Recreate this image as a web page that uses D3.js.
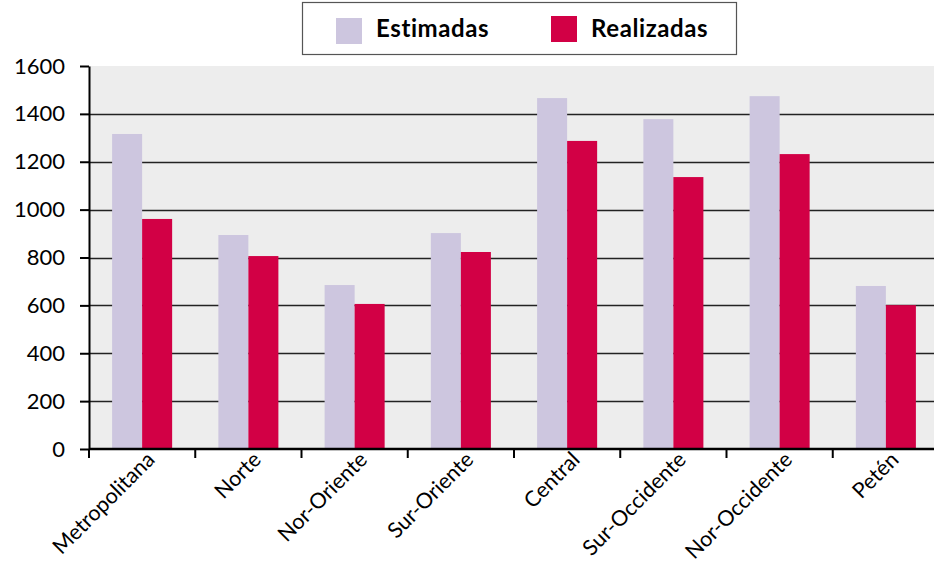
<!DOCTYPE html>
<html>
<head>
<meta charset="utf-8">
<script src="https://cdn.jsdelivr.net/npm/d3@7"></script>
<style>
  body { margin: 0; background: #fff; }
  svg { display: block; font-family: Lato, "Noto Sans", sans-serif; }
</style>
</head>
<body>
<div id="chart"></div>
<script>
// regions and the two series
var regions = ['Metropolitana', 'Norte', 'Nor-Oriente', 'Sur-Oriente', 'Central', 'Sur-Occidente', 'Nor-Occidente', 'Petén'];
var estimadas = [1316, 894, 685, 902, 1466, 1378, 1474, 681];
var realizadas = [961, 806, 606, 823, 1287, 1136, 1232, 601];
var yTicks = [0, 200, 400, 600, 800, 1000, 1200, 1400, 1600];
var seriesNames = ['Estimadas', 'Realizadas'];
var colors = ['#cdc6df', '#d20045'];

var width = 934, height = 566;
var margins = {left: 89, top: 66, right: -5, bottom: 117};
var plotW = width - margins.left - margins.right;
var plotH = height - margins.top - margins.bottom;

var svg = d3.select('#chart').append('svg')
  .attr('width', width)
  .attr('height', height);

var x = d3.scaleBand().domain(regions).range([0, plotW]).paddingInner(0.435).paddingOuter(0.2175);
var xs = d3.scaleBand().domain(seriesNames).range([0, x.bandwidth()]);
var y = d3.scaleLinear().domain([0, 1600]).range([plotH, 0]);

var g = svg.append('g').attr('transform', 'translate(' + margins.left + ',' + margins.top + ')');

g.append('rect')
  .attr('width', plotW).attr('height', plotH)
  .attr('fill', '#ededed');

// gridlines
g.selectAll('line.grid').data(yTicks.slice(1, -1)).enter()
  .append('line').classed('grid', true)
  .attr('x1', 0).attr('x2', plotW)
  .attr('y1', function(d) { return Math.round(y(d)) + 0.5; })
  .attr('y2', function(d) { return Math.round(y(d)) + 0.5; })
  .attr('stroke', '#222').attr('stroke-width', 1.3);

var rows = regions.map(function(r, i) { return {region: r, values: [estimadas[i], realizadas[i]]}; });

var groups = g.selectAll('g.region').data(rows).enter()
  .append('g').classed('region', true)
  .attr('transform', function(d) { return 'translate(' + x(d.region) + ',0)'; });

groups.selectAll('rect').data(function(d) { return d.values; }).enter()
  .append('rect')
  .attr('x', function(d, i) { return xs(seriesNames[i]); })
  .attr('width', xs.bandwidth())
  .attr('y', function(d) { return y(d); })
  .attr('height', function(d) { return plotH - y(d); })
  .attr('fill', function(d, i) { return colors[i]; });

// y axis
var yAxis = g.append('g')
  .call(d3.axisLeft(y).tickValues(yTicks).tickFormat(d3.format('d')).tickSize(9).tickSizeOuter(0).tickPadding(15));
yAxis.select('.domain').attr('stroke', '#000').attr('stroke-width', 2);
yAxis.selectAll('.tick line').attr('stroke', '#000').attr('stroke-width', 2);
yAxis.selectAll('.tick text').attr('font-size', 22).attr('fill', '#000')
  .attr('font-family', 'Lato, "Noto Sans", sans-serif');

// x axis with ticks between categories
var step = x.step();
var xAxis = g.append('g').attr('transform', 'translate(0,' + plotH + ')');
xAxis.append('line').attr('x1', 0).attr('x2', plotW).attr('stroke', '#000').attr('stroke-width', 2.5);
xAxis.selectAll('line.tk').data(d3.range(regions.length + 1)).enter()
  .append('line').classed('tk', true)
  .attr('x1', function(i) { return i * step; })
  .attr('x2', function(i) { return i * step; })
  .attr('y1', 0).attr('y2', 9)
  .attr('stroke', '#000').attr('stroke-width', 2);

xAxis.selectAll('text').data(regions).enter()
  .append('text')
  .attr('transform', function(d) {
    return 'translate(' + (x(d) + x.bandwidth() / 2 + 14) + ',12) rotate(-45)';
  })
  .attr('text-anchor', 'end')
  .attr('font-size', 21.5)
  .attr('fill', '#000')
  .text(function(d) { return d; });

// legend
var legend = svg.append('g').attr('transform', 'translate(302,2)');
legend.append('rect').attr('x', 0.5).attr('y', 0.5).attr('width', 434).attr('height', 52)
  .attr('fill', '#fff').attr('stroke', '#555').attr('stroke-width', 1.2);
var items = legend.selectAll('g.item').data(seriesNames).enter()
  .append('g').classed('item', true)
  .attr('transform', function(d, i) { return 'translate(' + (i === 0 ? 34 : 249) + ',' + (i === 0 ? 16 : 14) + ')'; });
items.append('rect').attr('width', 26).attr('height', 26)
  .attr('fill', function(d, i) { return colors[i]; });
items.append('text').attr('x', 40).attr('y', function(d, i) { return i === 0 ? 19 : 21; })
  .attr('font-size', 24).attr('font-weight', 'bold').attr('fill', '#000')
  .attr('letter-spacing', 0.6)
  .text(function(d) { return d; });
</script>
</body>
</html>
